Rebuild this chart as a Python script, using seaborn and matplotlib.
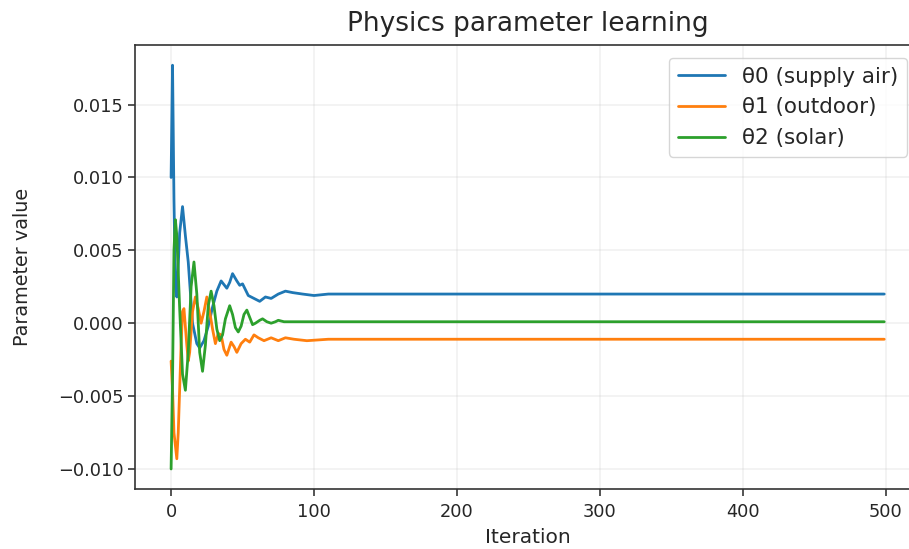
import matplotlib
matplotlib.use("Agg")
import matplotlib.pyplot as plt
import seaborn as sns
import pandas as pd

# theta0 (supply air)
supply_iter = [0, 1, 2, 3, 4, 6, 8, 10, 12, 15, 18, 20, 23, 26, 29, 32, 35, 39,
               41, 43, 46, 48, 50, 54, 58, 62, 66, 70, 75, 80, 85, 92, 100, 110, 125, 499]
supply_val = [0.0100, 0.0177, 0.0085, 0.0025, 0.0018, 0.0062, 0.0080, 0.0060, 0.0042,
              0.0000, -0.0014, -0.0017, -0.0012, -0.0002, 0.0011, 0.0022, 0.0029, 0.0024,
              0.0028, 0.0034, 0.0029, 0.0026, 0.0027, 0.0019, 0.0017, 0.0015, 0.0018,
              0.0017, 0.0020, 0.0022, 0.0021, 0.0020, 0.0019, 0.0020, 0.0020, 0.0020]

# theta1 (outdoor)
outdoor_iter = [0, 1, 2, 4, 5, 7, 8, 9, 11, 12, 13, 15, 17, 19, 21, 23, 25, 27, 29,
                31, 33, 35, 37, 39, 42, 44, 46, 49, 52, 55, 58, 61, 65, 70, 75, 80,
                86, 95, 110, 499]
outdoor_val = [-0.0026, -0.0045, -0.0075, -0.0093, -0.0075, -0.0015, 0.0008, 0.0010,
               -0.0015, -0.0026, -0.0020, 0.0008, 0.0018, 0.0010, 0.0000, 0.0008, 0.0018,
               0.0008, -0.0004, -0.0014, -0.0007, -0.0008, -0.0018, -0.0022, -0.0013,
               -0.0016, -0.0020, -0.0014, -0.0011, -0.0013, -0.0008, -0.0010, -0.0012,
               -0.0010, -0.0012, -0.0010, -0.0011, -0.0012, -0.0011, -0.0011]

# theta2 (solar)
solar_iter = [0, 1, 2, 3, 4, 6, 8, 10, 12, 14, 16, 18, 20, 22, 24, 26, 28, 30, 32,
              34, 36, 38, 41, 43, 45, 47, 49, 51, 53, 55, 57, 59, 62, 64, 67, 70, 73,
              75, 79, 84, 90, 499]
solar_val = [-0.0100, -0.0040, 0.0050, 0.0071, 0.0060, 0.0010, -0.0035, -0.0046,
             -0.0020, 0.0025, 0.0042, 0.0020, -0.0020, -0.0033, -0.0015, 0.0012, 0.0022,
             0.0012, -0.0004, -0.0012, -0.0008, 0.0003, 0.0012, 0.0006, -0.0003, -0.0006,
             -0.0002, 0.0006, 0.0009, 0.0004, -0.0001, 0.0000, 0.0002, 0.0003, 0.0001,
             0.0000, 0.0001, 0.0002, 0.0001, 0.0001, 0.0001, 0.0001]

labels = ["θ0 (supply air)", "θ1 (outdoor)", "θ2 (solar)"]

frames = [
    pd.DataFrame({"Iteration": supply_iter, "value": supply_val, "param": labels[0]}),
    pd.DataFrame({"Iteration": outdoor_iter, "value": outdoor_val, "param": labels[1]}),
    pd.DataFrame({"Iteration": solar_iter, "value": solar_val, "param": labels[2]}),
]
df = pd.concat(frames, ignore_index=True)

sns.set_style("ticks")
plt.rcParams["font.family"] = ["DejaVu Sans"]

fig = plt.figure(figsize=(9.09, 5.49), dpi=100)
ax = fig.add_axes([0.149, 0.109, 0.863, 0.809])

sns.lineplot(data=df, x="Iteration", y="value", hue="param", hue_order=labels,
             palette=sns.color_palette("tab10", 3), estimator=None, sort=True,
             linewidth=2.0, ax=ax)

ax.set_title("Physics parameter learning", fontsize=19, pad=10)
ax.set_xlabel("Iteration", fontsize=14.5, labelpad=5)
ax.set_ylabel("Parameter value", fontsize=13.8, labelpad=19)
ax.tick_params(labelsize=12.8, length=5, width=1.1)
ax.tick_params(axis="x", pad=5)
ax.set_xticks([0, 100, 200, 300, 400, 500])
ax.grid(True, alpha=0.3, linewidth=1.1)
for s in ax.spines.values():
    s.set_linewidth(1.2)
    s.set_color("#333333")

leg = ax.legend(loc="upper right", fontsize=15.5, frameon=True,
                borderaxespad=0.6, handlelength=2.2)
leg.set_title(None)
for line in leg.get_lines():
    line.set_linewidth(2.0)

fig.savefig("out.png", dpi=100)
